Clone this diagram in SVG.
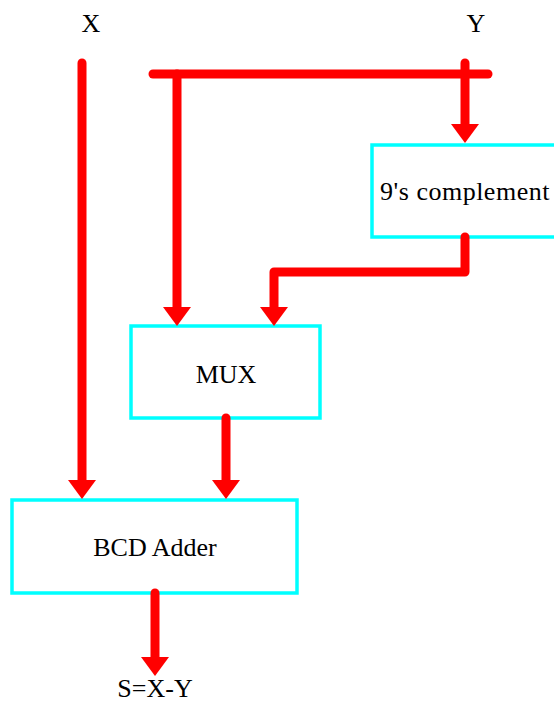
<svg xmlns="http://www.w3.org/2000/svg" width="554" height="702" viewBox="0 0 554 702">
<style>
.box{fill:#fff;stroke:#00ffff;stroke-width:3.5}
.lbl{font-family:'Liberation Serif','Times New Roman','DejaVu Serif',serif;font-size:26px;fill:#000;text-anchor:middle}
.wire{fill:none;stroke:#ff0000;stroke-width:9;stroke-linecap:round;stroke-linejoin:round}
</style>
<defs>
<marker id="ah" markerUnits="userSpaceOnUse" markerWidth="19" markerHeight="28" viewBox="0 0 19 28" refX="0" refY="14" orient="auto" overflow="visible">
<path d="M0,0 L19,14 L0,28 z" fill="#ff0000"/>
</marker>
</defs>
<g id="label-x"><text class="lbl" x="91" y="32">X</text></g>
<g id="label-y"><text class="lbl" x="476" y="32">Y</text></g>
<g id="nines-complement"><rect class="box" x="372" y="145" width="188" height="92"/><text class="lbl" x="465" y="200" letter-spacing="0.5">9's complement</text></g>
<g id="mux"><rect class="box" x="131" y="326" width="189" height="92"/><text class="lbl" x="226" y="383">MUX</text></g>
<g id="bcd-adder"><rect class="box" x="12" y="500" width="285" height="93"/><text class="lbl" x="155" y="556">BCD Adder</text></g>
<g id="label-s"><text class="lbl" x="155" y="697">S=X-Y</text></g>
<g id="connectors">
<path class="wire" d="M153,74 H488"/>
<path class="wire" d="M465,63 V124" marker-end="url(#ah)"/>
<path class="wire" d="M177,74 V307" marker-end="url(#ah)"/>
<path class="wire" d="M465,237 V272 H274 V307" marker-end="url(#ah)"/>
<path class="wire" d="M82,63 V480" marker-end="url(#ah)"/>
<path class="wire" d="M226,418 V480" marker-end="url(#ah)"/>
<path class="wire" d="M155,593 V657" marker-end="url(#ah)"/>
</g>
</svg>
